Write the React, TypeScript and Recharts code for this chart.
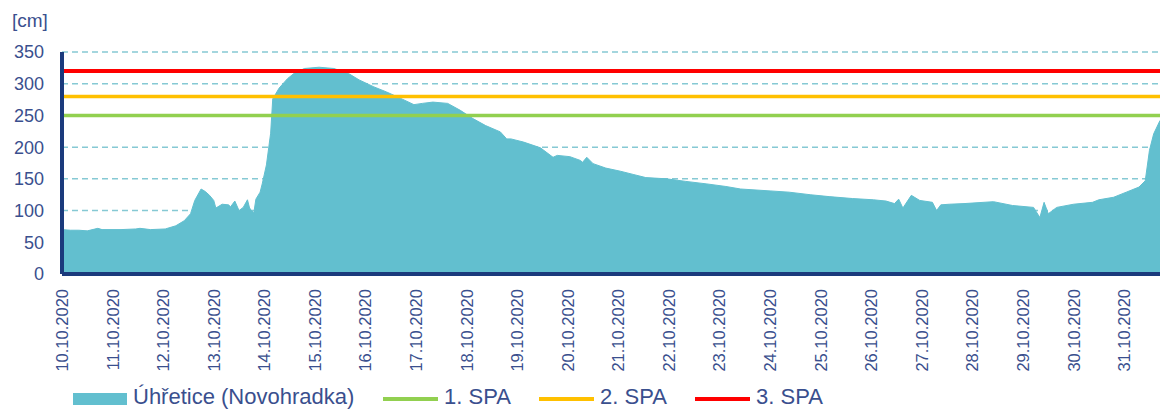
import { AreaChart, Area, XAxis, YAxis, CartesianGrid, ReferenceLine } from 'recharts';

// hodiny od 10.10.2020 00:00
const hours = [
  0, 4, 8, 12, 17, 19, 28, 35, 37, 42, 49, 54, 58, 61, 63, 66, 68, 70, 72, 73,
  76, 79, 80, 82, 84, 86, 88, 89, 91, 92, 94, 95, 97, 99, 100, 103, 107, 110, 115, 122,
  129, 136, 141, 148, 154, 160, 167, 171, 176, 183, 189, 195, 201, 208, 211, 213, 219, 227, 233, 235,
  241, 246, 247, 249, 252, 258, 265, 271, 277, 287, 296, 306, 315, 322, 336, 345, 355, 364, 375, 385,
  391, 395, 397, 399, 403, 407, 413, 415, 417, 421, 428, 442, 451, 461, 464, 466, 468, 472, 480, 489,
  492, 499, 505, 511, 514, 516, 518, 521,
];

// vodní stav [cm]
const levels = [
  70, 69, 69, 68, 72, 70, 70, 71, 72, 70, 71, 76, 84, 95, 116, 134, 130, 124, 116, 104,
  110, 109, 106, 115, 100, 105, 117, 104, 96, 118, 129, 142, 172, 222, 276, 293, 308, 316, 324, 326,
  324, 316, 306, 295, 287, 278, 267, 269, 271, 269, 258, 245, 234, 224, 213, 213, 208, 199, 184, 187,
  185, 179, 176, 184, 174, 167, 162, 157, 152, 150, 146, 142, 138, 134, 131, 129, 125, 122, 119, 117,
  115, 111, 118, 104, 124, 116, 113, 100, 109, 110, 111, 114, 108, 105, 89, 113, 95, 105, 110, 113,
  117, 121, 129, 137, 147, 195, 221, 242,
];

const dateLabels = [
  '10.10.2020', '11.10.2020', '12.10.2020', '13.10.2020', '14.10.2020', '15.10.2020', '16.10.2020',
  '17.10.2020', '18.10.2020', '19.10.2020', '20.10.2020', '21.10.2020', '22.10.2020', '23.10.2020',
  '24.10.2020', '25.10.2020', '26.10.2020', '27.10.2020', '28.10.2020', '29.10.2020', '30.10.2020',
  '31.10.2020',
];

const yTicks = [0, 50, 100, 150, 200, 250, 300, 350];

const spaNames = ['1. SPA', '2. SPA', '3. SPA'];
const spaLevels = [250, 280, 320];
const spaColors = ['#92D050', '#FFC000', '#FF0000'];

const stationName = 'Úhřetice (Novohradka)';

const data = hours.map((h, i) => ({ h, level: levels[i] }));
const xTicks = dateLabels.map((_, i) => i * 24);

const TEXT = '#3A4F8E';
const NAVY = '#1B3A7C';
const FILL = '#62BFCF';
const FONT = '"Liberation Sans", Arial, sans-serif';

function DateTick({ x, y, payload }: any) {
  const label = dateLabels[Math.round(payload.value / 24)];
  return (
    <text
      x={x}
      y={y + 13}
      transform={`rotate(-90, ${x}, ${y + 13})`}
      textAnchor="end"
      dy="0.36em"
      fontSize={16.5}
      fill={TEXT}
      fontFamily={FONT}
    >
      {label}
    </text>
  );
}

function LegendRow() {
  return (
    <div style={{ position: 'absolute', top: 385, left: 0, height: 24, width: 1160, fontFamily: FONT, fontSize: 22, color: TEXT }}>
      <div style={{ position: 'absolute', left: 73, top: 8, width: 54, height: 12, background: FILL }} />
      <span style={{ position: 'absolute', left: 133, top: 0, lineHeight: '24px' }}>{stationName}</span>
      {spaNames.map((name, i) => (
        <div key={name}>
          <div style={{ position: 'absolute', left: 383 + i * 156, top: 12, width: 55, height: 4, background: spaColors[i] }} />
          <span style={{ position: 'absolute', left: 444 + i * 156, top: 0, lineHeight: '24px' }}>{name}</span>
        </div>
      ))}
    </div>
  );
}

export default function App() {
  return (
    <div style={{ position: 'absolute', top: 0, left: 0, width: 1160, height: 409, overflow: 'hidden', background: '#fff' }}>
      <div style={{ position: 'absolute', left: 12, top: 10, fontFamily: FONT, fontSize: 19, color: TEXT, lineHeight: '22px' }}>[cm]</div>
      <AreaChart width={1160} height={409} data={data} margin={{ top: 52, right: 0, left: 0, bottom: 35 }}>
        <CartesianGrid vertical={false} stroke="#86C9D4" strokeDasharray="6 4" strokeWidth={1.5} />
        <XAxis
          dataKey="h"
          type="number"
          domain={[0, 521]}
          ticks={xTicks}
          interval={0}
          height={100}
          tick={<DateTick />}
          tickLine={false}
          tickSize={0}
          axisLine={{ stroke: NAVY, strokeWidth: 4 }}
        />
        <YAxis
          domain={[0, 350]}
          ticks={yTicks}
          interval={0}
          width={62}
          tickLine={false}
          tickSize={0}
          tickMargin={18}
          tick={{ fontSize: 18, fill: TEXT, fontFamily: FONT }}
          axisLine={{ stroke: NAVY, strokeWidth: 4 }}
        />
        <Area
          type="linear"
          dataKey="level"
          stroke={FILL}
          strokeWidth={1}
          fill={FILL}
          fillOpacity={1}
          isAnimationActive={false}
        />
        {spaLevels.map((v, i) => (
          <ReferenceLine key={spaNames[i]} y={v} stroke={spaColors[i]} strokeWidth={i === 2 ? 4 : 3.5} />
        ))}
      </AreaChart>
      <LegendRow />
    </div>
  );
}
